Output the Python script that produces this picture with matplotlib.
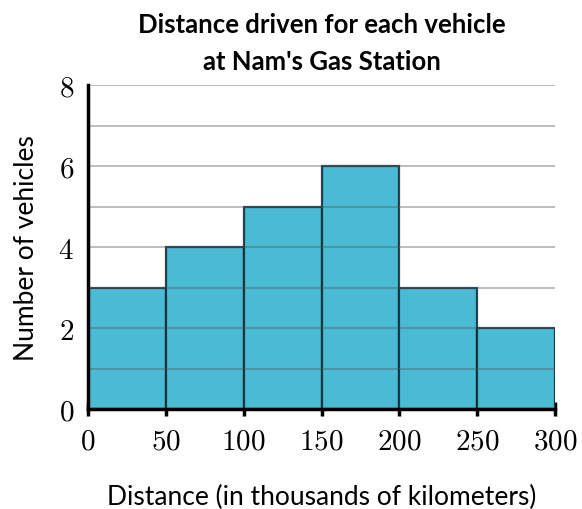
import numpy as np
import matplotlib.pyplot as plt

# Données
bin_edges = [0, 50, 100, 150, 200, 250, 300]
counts = [3, 4, 5, 6, 3, 2]
y_ticks = [0, 2, 4, 6, 8]
grid_levels = [1, 2, 3, 4, 5, 6, 7, 8]

plt.rcParams['mathtext.fontset'] = 'cm'
plt.rcParams['font.family'] = ['Lato', 'DejaVu Sans']

fig = plt.figure(figsize=(5.82, 5.10), dpi=100)
ax = fig.add_axes([0.151, 0.196, 0.803, 0.635])

# Barres de l'histogramme
lefts = bin_edges[:-1]
widths = np.diff(bin_edges)
ax.bar(lefts, counts, width=widths, align='edge', color='#4bbad4',
       edgecolor=(0.05, 0.15, 0.18, 0.85), linewidth=1.6, zorder=2)

# Lignes de grille par-dessus
ax.hlines(grid_levels, bin_edges[0], bin_edges[-1], colors='#555555',
          linewidth=1.2, alpha=0.45, zorder=3)

ax.set_xlim(bin_edges[0], bin_edges[-1])
ax.set_ylim(0, 8)
ax.set_xticks(bin_edges)
ax.set_xticklabels(['$%d$' % v for v in bin_edges], fontsize=21)
ax.set_yticks(y_ticks)
ax.set_yticklabels(['$%d$' % v for v in y_ticks], fontsize=21)

for s in ['top', 'right']:
    ax.spines[s].set_visible(False)
ax.spines['left'].set_linewidth(2.5)
ax.spines['bottom'].set_linewidth(2.5)
ax.spines['left'].set_zorder(4)
ax.spines['bottom'].set_zorder(4)

ax.tick_params(axis='x', direction='inout', length=10, width=2.5, pad=8)
ax.tick_params(axis='y', length=0, pad=10)

ax.set_xlabel('Distance (in thousands of kilometers)', fontsize=19, labelpad=22)
ax.set_ylabel('Number of vehicles', fontsize=19, labelpad=14)
ax.set_title("Distance driven for each vehicle\nat Nam's Gas Station",
             fontsize=18.5, fontweight='bold', linespacing=1.65, pad=12)

plt.savefig('out.png')
